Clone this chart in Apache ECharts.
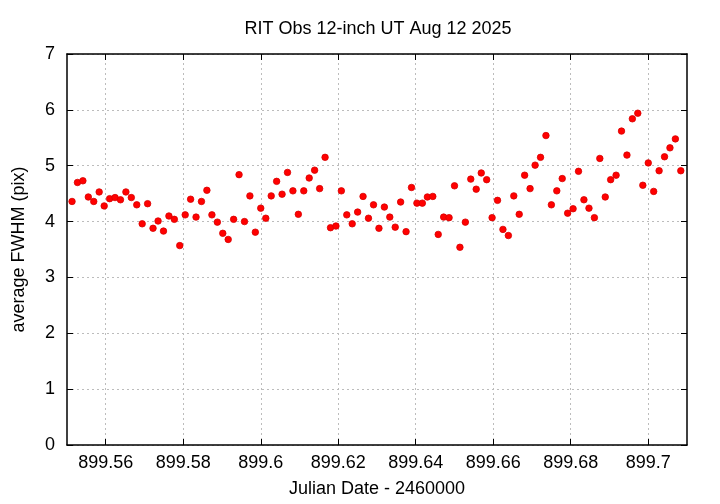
<!DOCTYPE html>
<html>
<head>
<meta charset="utf-8">
<script src="https://cdn.jsdelivr.net/npm/echarts@6/dist/echarts.min.js"></script>
<style>html,body{margin:0;padding:0;background:#fff}#c{width:720px;height:504px}</style>
</head>
<body>
<div id="c"></div>
<script>
const titleText = 'RIT Obs 12-inch UT Aug 12 2025';
const xName = 'Julian Date - 2460000';
const yName = 'average FWHM (pix)';
const xTicks = [899.56, 899.58, 899.60, 899.62, 899.64, 899.66, 899.68, 899.70];
const xTickLabels = ['899.56', '899.58', '899.6', '899.62', '899.64', '899.66', '899.68', '899.7'];
const jd = [
  899.5513, 899.5527, 899.5541, 899.5555, 899.5569, 899.5583, 899.5596, 899.5610, 899.5624, 899.5638,
  899.5652, 899.5666, 899.5680, 899.5694, 899.5708, 899.5722, 899.5735, 899.5749, 899.5763, 899.5777,
  899.5791, 899.5805, 899.5819, 899.5833, 899.5847, 899.5861, 899.5874, 899.5888, 899.5902, 899.5916,
  899.5930, 899.5944, 899.5958, 899.5972, 899.5986, 899.6000, 899.6013, 899.6027, 899.6041, 899.6055,
  899.6069, 899.6083, 899.6097, 899.6111, 899.6125, 899.6139, 899.6152, 899.6166, 899.6180, 899.6194,
  899.6208, 899.6222, 899.6236, 899.6250, 899.6264, 899.6278, 899.6291, 899.6305, 899.6319, 899.6333,
  899.6347, 899.6361, 899.6375, 899.6389, 899.6403, 899.6417, 899.6430, 899.6444, 899.6458, 899.6472,
  899.6486, 899.6500, 899.6514, 899.6528, 899.6542, 899.6556, 899.6569, 899.6583, 899.6597, 899.6611,
  899.6625, 899.6639, 899.6653, 899.6667, 899.6681, 899.6695, 899.6708, 899.6722, 899.6736, 899.6750,
  899.6764, 899.6778, 899.6792, 899.6806, 899.6820, 899.6834, 899.6847, 899.6861, 899.6875, 899.6889,
  899.6903, 899.6917, 899.6931, 899.6945, 899.6959, 899.6973, 899.6986, 899.7000, 899.7014, 899.7028,
  899.7042, 899.7056, 899.7070, 899.7084
];
const fwhm = [
  4.36, 4.70, 4.73, 4.44, 4.36, 4.53, 4.28, 4.41, 4.43, 4.39, 4.53, 4.43, 4.30, 3.96, 4.32, 3.88, 4.01,
  3.83, 4.10, 4.04, 3.57, 4.12, 4.40, 4.08, 4.36, 4.56, 4.12, 3.99, 3.79, 3.68, 4.04, 4.84, 4.00,
  4.46, 3.81, 4.24, 4.06, 4.46, 4.72, 4.49, 4.88, 4.55, 4.13, 4.55, 4.78, 4.92, 4.59, 5.15, 3.89, 3.92,
  4.55, 4.12, 3.96, 4.17, 4.45, 4.06, 4.30, 3.88, 4.26, 4.08, 3.90, 4.35, 3.82, 4.61, 4.33, 4.33,
  4.44, 4.45, 3.77, 4.08, 4.07, 4.64, 3.54, 3.99, 4.76, 4.58, 4.87, 4.75, 4.07, 4.38, 3.86, 3.75, 4.46,
  4.13, 4.83, 4.59, 5.01, 5.15, 5.54, 4.30, 4.55, 4.77, 4.15, 4.23, 4.90, 4.39, 4.24, 4.07, 5.13, 4.44,
  4.75, 4.83, 5.62, 5.19, 5.84, 5.94, 4.65, 5.05, 4.54, 4.91, 5.16, 5.32, 5.48, 4.91
];

const FONT = 'Liberation Sans';
const FS = 18;
const points = jd.map((x, i) => [x, fwhm[i]]);
const labelMap = {};
xTicks.forEach((v, i) => { labelMap[v.toFixed(2)] = xTickLabels[i]; });

const chart = echarts.init(document.getElementById('c'), null, { renderer: 'canvas' });
const tickStyle = { show: true, inside: true, length: 6, lineStyle: { color: '#000', width: 1 } };
const axisLine = { show: true, onZero: false, lineStyle: { color: '#000', width: 1.5 } };
const gridLine = { show: true, lineStyle: { color: '#bcbcbc', width: 1, type: [2, 3] } };

chart.setOption({
  animation: false,
  backgroundColor: '#fff',
  title: {
    text: titleText, left: 373, top: 15, textAlign: 'center',
    textStyle: { fontFamily: FONT, fontSize: FS, fontWeight: 'normal', color: '#000' }
  },
  grid: { left: 67, right: 33, top: 54, bottom: 59, containLabel: false },
  xAxis: [{
    type: 'value', position: 'bottom', min: 899.55, max: 899.71,
    name: xName, nameLocation: 'middle', nameGap: 35,
    nameTextStyle: { fontFamily: FONT, fontSize: FS, color: '#000' },
    axisLine: axisLine,
    axisTick: Object.assign({}, tickStyle, { customValues: xTicks }),
    axisLabel: {
      customValues: xTicks, margin: 9, fontFamily: FONT, fontSize: FS, color: '#000',
      formatter: v => labelMap[Number(v).toFixed(2)] || ''
    },
    splitLine: { show: false }
  }, {
    type: 'value', position: 'top', min: 899.55, max: 899.71,
    axisLine: axisLine,
    axisTick: Object.assign({}, tickStyle, { customValues: xTicks }),
    axisLabel: { show: false },
    splitLine: { show: false }
  }],
  yAxis: [{
    type: 'value', position: 'left', min: 0, max: 7, interval: 1,
    name: yName, nameLocation: 'middle', nameGap: 39,
    nameTextStyle: { fontFamily: FONT, fontSize: FS, color: '#000' },
    axisLine: axisLine, axisTick: tickStyle,
    axisLabel: { margin: 12, fontFamily: FONT, fontSize: FS, color: '#000' },
    splitLine: gridLine
  }, {
    type: 'value', position: 'right', min: 0, max: 7, interval: 1,
    axisLine: axisLine, axisTick: tickStyle,
    axisLabel: { show: false }, splitLine: { show: false }
  }],
  series: [{
    type: 'scatter', xAxisIndex: 0, yAxisIndex: 0,
    data: points, symbol: 'circle', symbolSize: 6.5,
    itemStyle: { color: '#ff0000', borderColor: '#d80000', borderWidth: 0.8, opacity: 1 },
    z: 3,
    markLine: {
      silent: true, symbol: ['none', 'none'], z: 0,
      label: { show: false },
      lineStyle: { color: '#bcbcbc', width: 1, type: [2, 3] },
      data: xTicks.map(v => ({ xAxis: v }))
    }
  }]
});
</script>
</body>
</html>
